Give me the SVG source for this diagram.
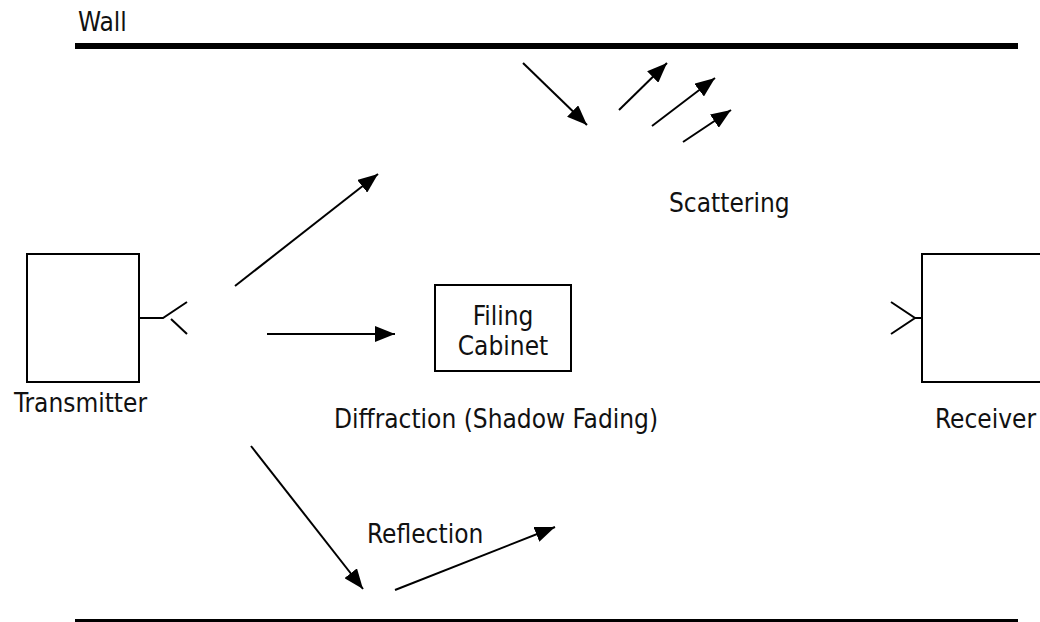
<svg xmlns="http://www.w3.org/2000/svg" width="1040" height="622" viewBox="0 0 1040 622">
  <style>
    .lbl { font-family: "DejaVu Sans Condensed", "DejaVu Sans", sans-serif; font-stretch: condensed; font-size: 26px; fill: #111; }
    .box { fill: #fff; stroke: #000; stroke-width: 2; }
    .wire { fill: none; stroke: #000; stroke-width: 2; }
    .ray { fill: none; stroke: #000; stroke-width: 2; marker-end: url(#head); }
    .wall { stroke: #000; stroke-width: 6; }
  </style>
  <defs>
    <marker id="head" viewBox="0 0 20 16" refX="20" refY="8" markerWidth="20" markerHeight="16" markerUnits="userSpaceOnUse" orient="auto">
      <path d="M0,0 L20,8 L0,16 z" fill="#000"/>
    </marker>
  </defs>
  <rect width="1040" height="622" fill="#fff"/>

  <!-- walls -->
  <g id="walls">
    <line class="wall" x1="75" y1="46" x2="1018" y2="46"/>
    <line class="wall" x1="75" y1="622" x2="1018" y2="622"/>
    <text class="lbl" x="78" y="31">Wall</text>
  </g>

  <!-- transmitter with antenna -->
  <g id="transmitter">
    <rect class="box" x="27" y="254" width="112" height="128"/>
    <polyline class="wire" points="139,318 163,318 187,302"/>
    <line class="wire" x1="171" y1="319" x2="187" y2="334"/>
    <text class="lbl" x="14" y="412">Transmitter</text>
  </g>

  <!-- receiver with antenna -->
  <g id="receiver">
    <rect class="box" x="922" y="254" width="140" height="128"/>
    <polyline class="wire" points="891,302 915,318 891,334"/>
    <line class="wire" x1="915" y1="318" x2="922" y2="318"/>
    <text class="lbl" x="935" y="428">Receiver</text>
  </g>

  <!-- obstacle -->
  <g id="cabinet">
    <rect class="box" x="435" y="285" width="136" height="86"/>
    <text class="lbl" x="503" y="325" text-anchor="middle">Filing</text>
    <text class="lbl" x="503" y="355" text-anchor="middle">Cabinet</text>
  </g>

  <!-- propagation labels -->
  <g id="labels">
    <text class="lbl" x="669" y="212">Scattering</text>
    <text class="lbl" x="334" y="428">Diffraction (Shadow Fading)</text>
    <text class="lbl" x="367" y="543">Reflection</text>
  </g>

  <!-- rays -->
  <g id="connectors">
    <line class="ray" x1="523" y1="63" x2="587" y2="125"/>
    <line class="ray" x1="619" y1="110" x2="667" y2="63"/>
    <line class="ray" x1="652" y1="126" x2="715" y2="78"/>
    <line class="ray" x1="683" y1="142" x2="731" y2="110"/>
    <line class="ray" x1="235" y1="286" x2="378" y2="174"/>
    <line class="ray" x1="267" y1="334" x2="395" y2="334"/>
    <line class="ray" x1="251" y1="446" x2="363" y2="589"/>
    <line class="ray" x1="395" y1="590" x2="555" y2="527"/>
  </g>
</svg>
